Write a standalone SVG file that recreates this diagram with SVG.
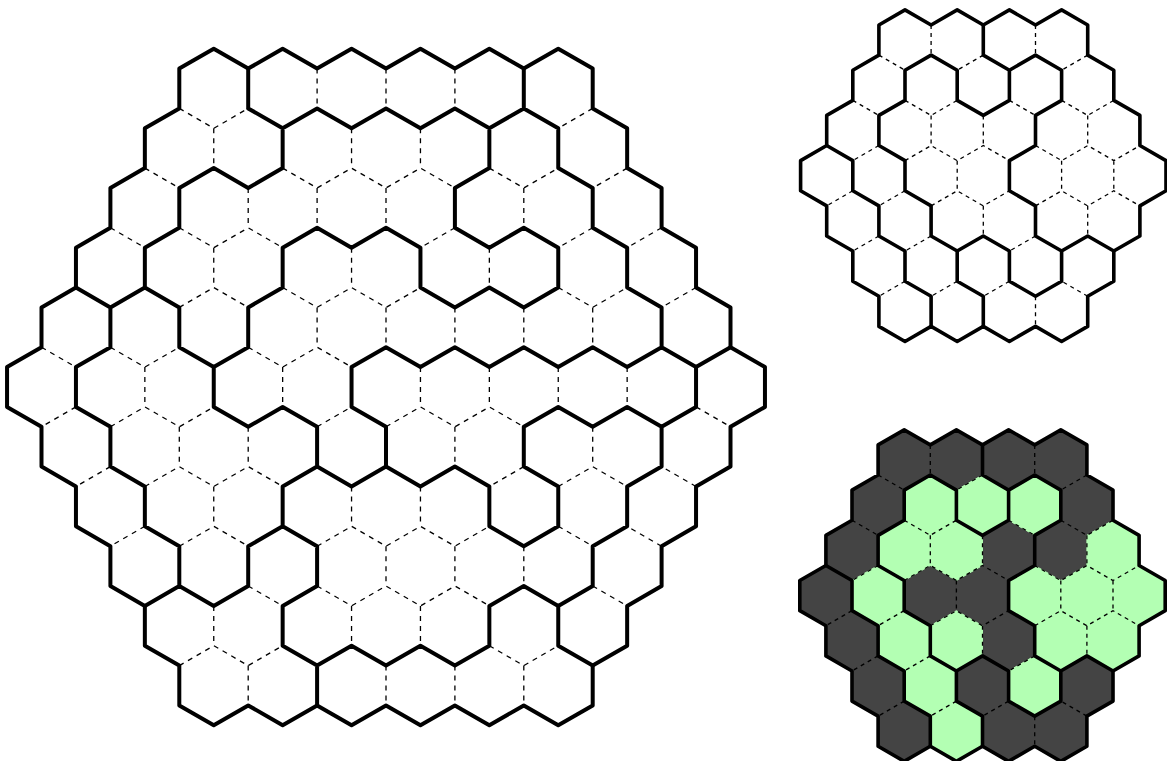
<svg xmlns="http://www.w3.org/2000/svg" width="1167" height="761" viewBox="0 0 1167 761">
<defs>
<polygon id="h" points="0,-2 1,-1 1,1 0,2 -1,1 -1,-1" vector-effect="non-scaling-stroke"/>
</defs>
<style>
.t{fill:none;stroke:#000;stroke-width:4;stroke-linecap:round;stroke-linejoin:round}
.ts{stroke-width:3.6}
.d{fill:none;stroke:#000;stroke-width:1.3;stroke-dasharray:5 5}
.ds{stroke-dasharray:4 4}
.g{fill:#b3ffb3;stroke:#b3ffb3;stroke-width:1}
.k{fill:#444;stroke:#444;stroke-width:1}
</style>
<rect width="1167" height="761" fill="#fff"/>
<g id="large-grid" transform="translate(386 387) scale(34.45 19.9)">
<path class="d" vector-effect="non-scaling-stroke" d="M-2-16v2M0-16v2M2-16v2M-6-14l1 1 1-1M6-14l-1 1M-5-13v2M-7-11l1 1M-1-13v2M1-13v2M-3-11l1 1 1-1 1 1 1-1 1 1M3-11l1 1 1-1M7-11l-1 1M-4-10v2M-8-8l1 1M-6-8l1 1 1-1 1 1M-2-10v2M0-10v2M2-8l-1 1M4-10v2M6-8l-1 1M8-8l-1 1M-5-7v2M-6-4l1-1 1 1M-1-7v2M-3-5l1 1 1-1 1 1 1-1M3-7v2M5-5l1 1 1-1M9-5l-1 1M-10-2l1 1M-8-2l1 1 1-1M-2-4v2M-4-2l1 1 1-1 1 1M0-4v2M2-4v2M4-4v2M6-4v2M-9 1l-1 1M-7-1v2M-8 2l1-1 1 1 1-1M-3-1v2M-2 2l1-1M1-1v2M0 2l1-1 1 1 1-1 1 1M3-1v2M5-1v2M7-1v2M9 1l1 1M-8 4l-1 1M-6 2v2M-7 5l1-1 1 1 1-1 1 1M-4 2v2M2 2v2M4 4l-1 1M6 2v2M5 5l1-1 1 1M9 5l-1-1M-7 7l-1 1M-5 5v2M-6 8l1-1 1 1M-1 5v2M1 5v2M-2 8l1-1 1 1 1-1 1 1 1-1M5 7l1 1M8 8l-1-1M-4 10l1 1M0 8v2M2 8v2M4 8v2M-2 10l1 1 1-1 1 1 1-1 1 1M6 10l1 1M-5 11v2M-6 14l1-1 1 1 1-1M-1 11v2M1 11v2M3 13l1 1 1-1M-4 14v2M0 14v2M2 14v2M4 14v2"/>
<path class="t" vector-effect="non-scaling-stroke" d="M-6-16l1-1 1 1 1-1 1 1 1-1 1 1 1-1 1 1 1-1 1 1 1-1 1 1v2l1 1v2l1 1v2l1 1v2l1 1v2l1 1v2l-1 1v2l-1 1v2l-1 1v2l-1 1v2l-1 1v2l-1 1-1-1-1 1-1-1-1 1-1-1-1 1-1-1-1 1-1-1-1 1-1-1v-2l-1-1v-2l-1-1v-2l-1-1v-2l-1-1v-2l-1-1v-2l1-1v-2l1-1v-2l1-1v-2l1-1v-2l1-1v-2z"/>
<path class="t" vector-effect="non-scaling-stroke" d="M-4-14l1 1 1-1 1 1 1-1 1 1 1-1 1 1 1-1 1 1v2l1 1v2l1 1v2l1 1v2M-4-16v2M4-16v2M-7-5v-2l1-1v-2l1-1 1 1 1-1v-2M-8-4l1-1 1 1v2l1 1 1-1v-2l1-1v-2l1-1 1 1 1-1 1 1v2l1 1 1-1 1 1 1-1v-2l-1-1-1 1-1-1v-2l1-1v-2M-9-5l1 1v2l-1 1v2l1 1v2l1 1v2l1 1v2l1 1l1-1v-2l1-1v-2l1-1v-2l-1-1-1 1-1-1v-2M0 4v-2l-1-1v-2l1-1 1 1 1-1 1 1 1-1 1 1 1-1 1 1 1-1 1 1 1-1M-2 4l1 1 1-1 1 1 1-1 1 1v2l1 1 1-1v-2l-1-1v-2l1-1 1 1 1-1 1 1 1-1v-2M-3 7l1 1v2l-1 1v2l1 1 1-1 1 1 1-1 1 1 1-1v-2l1-1 1 1 1-1v-2l1-1v-2l1-1v-2M-6 10l-1 1M-2 14v2M5 11v2l1 1"/>
</g>
<g id="small-grid-walls" transform="translate(983.3 175.7) scale(26.1 15.07)">
<path class="d ds" vector-effect="non-scaling-stroke" d="M-2-10v2M-4-8l1 1M0-8l-1 1M2-10v2M4-8l-1 1M-5-5l1 1M-3-5l1 1 1-1M1-5l1 1M3-5l1 1 1-1M-4-2l-1 1M-2-4v2M0-4v2M4-4v2M-3-1l1-1 1 1 1-1 1 1M2-2l1 1 1-1 1 1 1-1M-5 1l-1 1M-3 1l-1 1M-1-1v2M-2 2l1-1 1 1 1-1M3-1v2M5-1v2M2 2l1-1 1 1 1-1 1 1M-4 4l-1 1M-2 4l-1 1M0 2v2M2 4l-1 1M4 2v2M-3 7l-1 1M-1 7l-1 1M1 7l-1 1M4 8l-1-1M2 8v2"/>
<path class="t ts" vector-effect="non-scaling-stroke" d="M-4-10l1-1 1 1 1-1 1 1 1-1 1 1 1-1 1 1v2l1 1v2l1 1v2l1 1v2l-1 1v2l-1 1v2l-1 1v2l-1 1-1-1-1 1-1-1-1 1-1-1-1 1-1-1v-2l-1-1v-2l-1-1v-2l-1-1v-2l1-1v-2l1-1v-2l1-1v-2z"/>
<path class="t ts" vector-effect="non-scaling-stroke" d="M-6-2l1 1v2l1 1v2l1 1v2l1 1v2M-3-7v2l-1 1v2l1 1v2l1 1v2l1 1v2l1 1v2M-3-7l1-1 1 1v2l1 1 1-1v-2l-1-1v-2M1-7l1-1 1 1v2l-1 1v2l-1 1v2l1 1v2l1 1 1-1 1 1M-1 5l1-1 1 1v2l1 1 1-1v-2"/>
</g>
<g id="small-grid-shaded" transform="translate(982.5 595.6) scale(26.1 15.07)">
<g class="k">
<use href="#h" x="-3" y="-9"/><use href="#h" x="-1" y="-9"/><use href="#h" x="1" y="-9"/><use href="#h" x="3" y="-9"/>
<use href="#h" x="-4" y="-6"/><use href="#h" x="4" y="-6"/>
<use href="#h" x="-5" y="-3"/><use href="#h" x="1" y="-3"/><use href="#h" x="3" y="-3"/>
<use href="#h" x="-6" y="0"/><use href="#h" x="-2" y="0"/><use href="#h" x="0" y="0"/>
<use href="#h" x="-5" y="3"/><use href="#h" x="1" y="3"/>
<use href="#h" x="-4" y="6"/><use href="#h" x="0" y="6"/><use href="#h" x="4" y="6"/>
<use href="#h" x="-3" y="9"/><use href="#h" x="1" y="9"/><use href="#h" x="3" y="9"/>
</g>
<g class="g">
<use href="#h" x="-2" y="-6"/><use href="#h" x="0" y="-6"/><use href="#h" x="2" y="-6"/>
<use href="#h" x="-3" y="-3"/><use href="#h" x="-1" y="-3"/><use href="#h" x="5" y="-3"/>
<use href="#h" x="-4" y="0"/><use href="#h" x="2" y="0"/><use href="#h" x="4" y="0"/><use href="#h" x="6" y="0"/>
<use href="#h" x="-3" y="3"/><use href="#h" x="-1" y="3"/><use href="#h" x="3" y="3"/><use href="#h" x="5" y="3"/>
<use href="#h" x="-2" y="6"/><use href="#h" x="2" y="6"/>
<use href="#h" x="-1" y="9"/>
</g>
<path class="d ds" vector-effect="non-scaling-stroke" d="M-2-10v2M-4-8l1 1M0-8l-1 1M2-10v2M4-8l-1 1M-5-5l1 1M-3-5l1 1 1-1M1-5l1 1M3-5l1 1 1-1M-4-2l-1 1M-2-4v2M0-4v2M4-4v2M-3-1l1-1 1 1 1-1 1 1M2-2l1 1 1-1 1 1 1-1M-5 1l-1 1M-3 1l-1 1M-1-1v2M-2 2l1-1 1 1 1-1M3-1v2M5-1v2M2 2l1-1 1 1 1-1 1 1M-4 4l-1 1M-2 4l-1 1M0 2v2M2 4l-1 1M4 2v2M-3 7l-1 1M-1 7l-1 1M1 7l-1 1M4 8l-1-1M2 8v2"/>
<path class="t ts" vector-effect="non-scaling-stroke" d="M-4-10l1-1 1 1 1-1 1 1 1-1 1 1 1-1 1 1v2l1 1v2l1 1v2l1 1v2l-1 1v2l-1 1v2l-1 1v2l-1 1-1-1-1 1-1-1-1 1-1-1-1 1-1-1v-2l-1-1v-2l-1-1v-2l-1-1v-2l1-1v-2l1-1v-2l1-1v-2z"/>
<path class="t ts" vector-effect="non-scaling-stroke" d="M-6-2l1 1v2l1 1v2l1 1v2l1 1v2M-3-7v2l-1 1v2l1 1v2l1 1v2l1 1v2l1 1v2M-3-7l1-1 1 1v2l1 1 1-1v-2l-1-1v-2M1-7l1-1 1 1v2l-1 1v2l-1 1v2l1 1v2l1 1 1-1 1 1M-1 5l1-1 1 1v2l1 1 1-1v-2"/>
</g>
</svg>
